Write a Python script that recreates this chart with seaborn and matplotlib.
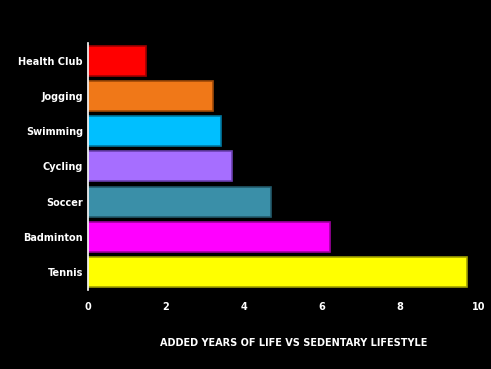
import matplotlib
matplotlib.use("Agg")
import matplotlib.pyplot as plt
import seaborn as sns
import pandas as pd

sports = ["Health Club", "Jogging", "Swimming", "Cycling", "Soccer", "Badminton", "Tennis"]
years = [1.5, 3.2, 3.4, 3.7, 4.7, 6.2, 9.7]
colors = ["#FF0000", "#F07818", "#00BFFF", "#A66EFF", "#3A8FA8", "#FF00FF", "#FFFF00"]
edges = ["#A00000", "#A04A08", "#00789F", "#6A40B0", "#22596A", "#A000A0", "#A0A000"]

df = pd.DataFrame({"sport": sports, "years": years})

sns.set_style("dark", {"axes.facecolor": "black", "figure.facecolor": "black"})
plt.rcParams["font.family"] = ["DejaVu Sans"]

fig, ax = plt.subplots(figsize=(4.91, 3.69), dpi=100)
fig.patch.set_facecolor("black")
ax.set_facecolor("black")

sns.barplot(data=df, x="years", y="sport", hue="sport", palette=colors,
            legend=False, width=0.85, saturation=1, ax=ax, order=sports)
for patch, ec in zip(ax.patches, edges):
    patch.set_edgecolor(ec)
    patch.set_linewidth(1.2)

ax.set_xlim(0, 10)
ax.set_ylim(6.5, -0.5)
ax.set_xticks([0, 2, 4, 6, 8, 10])
ax.grid(False)
for s in ["top", "right", "bottom"]:
    ax.spines[s].set_visible(False)
ax.spines["left"].set_color("white")
ax.spines["left"].set_linewidth(1.2)

ax.tick_params(axis="both", colors="white", length=0, labelsize=7)
ax.tick_params(axis="x", pad=9)
for lbl in ax.get_xticklabels() + ax.get_yticklabels():
    lbl.set_fontweight("bold")
    lbl.set_color("white")

ax.set_ylabel("")
ax.set_xlabel("ADDED YEARS OF LIFE VS SEDENTARY LIFESTYLE", color="white",
              fontsize=7, fontweight="bold")
ax.xaxis.set_label_coords(0.526, -0.195)

fig.subplots_adjust(left=0.179, right=0.974, top=0.883, bottom=0.215)
fig.savefig("out.png", dpi=100, facecolor="black")
